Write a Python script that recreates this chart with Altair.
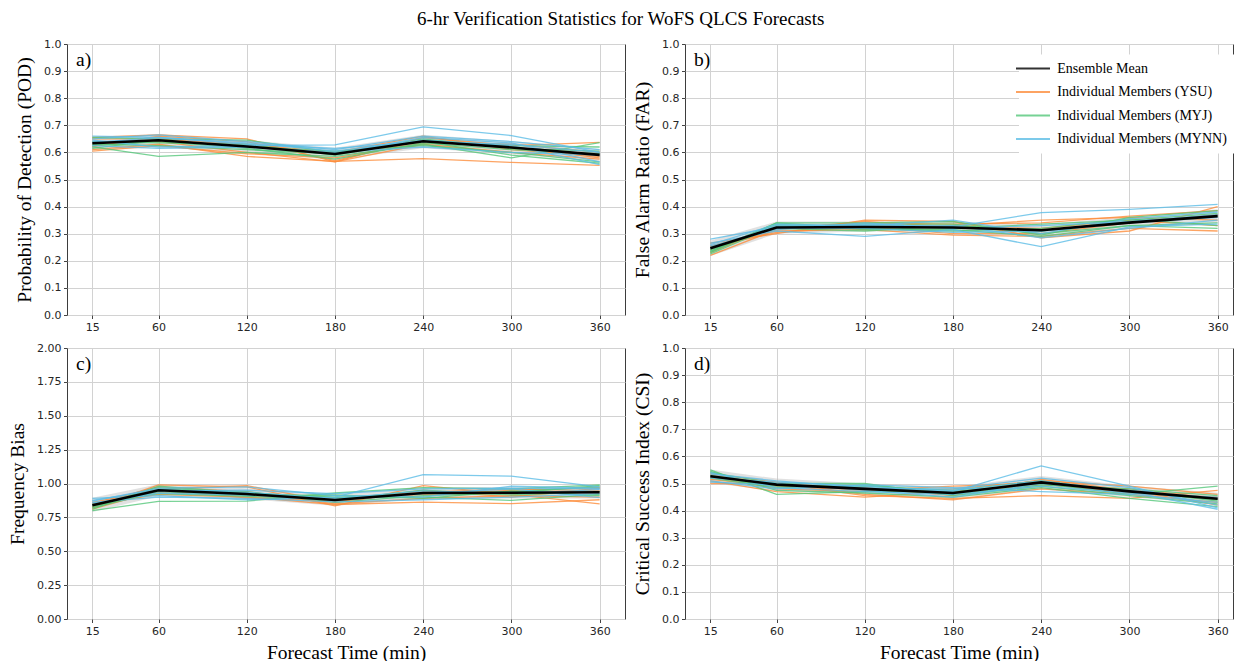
import altair as alt
import pandas as pd

TIMES = [15, 60, 120, 180, 240, 300, 360]
SERIES = ["Ensemble Mean", "Individual Members (YSU)",
          "Individual Members (MYJ)", "Individual Members (MYNN)"]
COLORS = ["#000000", "#fd8d3c", "#55c77a", "#5cbde6"]
Y_TICKS_01 = [0.0, 0.1, 0.2, 0.3, 0.4, 0.5, 0.6, 0.7, 0.8, 0.9, 1.0]
Y_TICKS_BIAS = [0.0, 0.25, 0.5, 0.75, 1.0, 1.25, 1.5, 1.75, 2.0]

# ---- a) POD ----
POD_MEAN = [0.634, 0.645, 0.622, 0.594, 0.641, 0.618, 0.591]
POD_LO = [0.608, 0.618, 0.600, 0.572, 0.615, 0.593, 0.567]
POD_HI = [0.658, 0.668, 0.645, 0.617, 0.665, 0.642, 0.613]
POD_YSU = [
    [0.655, 0.665, 0.650, 0.565, 0.655, 0.625, 0.637],
    [0.610, 0.630, 0.585, 0.567, 0.577, 0.563, 0.552],
    [0.620, 0.660, 0.640, 0.570, 0.645, 0.620, 0.580],
    [0.640, 0.640, 0.600, 0.565, 0.630, 0.600, 0.575],
    [0.605, 0.625, 0.595, 0.580, 0.635, 0.630, 0.600],
    [0.650, 0.650, 0.630, 0.600, 0.660, 0.610, 0.585],
]
POD_MYJ = [
    [0.620, 0.585, 0.600, 0.585, 0.630, 0.580, 0.636],
    [0.655, 0.650, 0.645, 0.600, 0.640, 0.590, 0.560],
    [0.615, 0.645, 0.620, 0.605, 0.625, 0.600, 0.565],
    [0.640, 0.635, 0.630, 0.590, 0.645, 0.625, 0.620],
    [0.625, 0.640, 0.615, 0.575, 0.635, 0.610, 0.595],
    [0.630, 0.625, 0.610, 0.595, 0.650, 0.615, 0.605],
]
POD_MYNN = [
    [0.645, 0.620, 0.625, 0.628, 0.694, 0.662, 0.600],
    [0.650, 0.665, 0.640, 0.610, 0.660, 0.640, 0.610],
    [0.625, 0.615, 0.620, 0.595, 0.655, 0.635, 0.565],
    [0.635, 0.655, 0.635, 0.605, 0.645, 0.625, 0.555],
    [0.640, 0.645, 0.620, 0.600, 0.620, 0.600, 0.590],
    [0.660, 0.655, 0.630, 0.615, 0.640, 0.630, 0.600],
]

# ---- b) FAR ----
FAR_MEAN = [0.246, 0.323, 0.325, 0.323, 0.313, 0.341, 0.365]
FAR_LO = [0.218, 0.300, 0.308, 0.307, 0.290, 0.318, 0.340]
FAR_HI = [0.275, 0.345, 0.345, 0.345, 0.335, 0.362, 0.390]
FAR_YSU = [
    [0.265, 0.300, 0.350, 0.345, 0.285, 0.310, 0.400],
    [0.240, 0.320, 0.340, 0.335, 0.340, 0.365, 0.385],
    [0.255, 0.310, 0.315, 0.295, 0.290, 0.320, 0.310],
    [0.230, 0.330, 0.330, 0.330, 0.350, 0.360, 0.350],
    [0.250, 0.305, 0.325, 0.300, 0.300, 0.340, 0.370],
    [0.220, 0.315, 0.345, 0.325, 0.320, 0.350, 0.330],
]
FAR_MYJ = [
    [0.230, 0.340, 0.340, 0.345, 0.295, 0.360, 0.385],
    [0.235, 0.335, 0.315, 0.315, 0.290, 0.330, 0.320],
    [0.225, 0.330, 0.325, 0.320, 0.335, 0.350, 0.375],
    [0.245, 0.320, 0.310, 0.330, 0.310, 0.345, 0.365],
    [0.240, 0.325, 0.335, 0.335, 0.300, 0.330, 0.340],
    [0.235, 0.340, 0.320, 0.310, 0.320, 0.355, 0.330],
]
FAR_MYNN = [
    [0.280, 0.325, 0.335, 0.325, 0.378, 0.390, 0.408],
    [0.265, 0.310, 0.290, 0.315, 0.252, 0.325, 0.335],
    [0.260, 0.335, 0.330, 0.350, 0.300, 0.355, 0.380],
    [0.250, 0.320, 0.320, 0.305, 0.310, 0.340, 0.360],
    [0.245, 0.330, 0.330, 0.330, 0.285, 0.320, 0.350],
    [0.255, 0.315, 0.340, 0.320, 0.330, 0.345, 0.370],
]

# ---- c) Frequency Bias ----
BIAS_MEAN = [0.840, 0.950, 0.922, 0.878, 0.930, 0.932, 0.935]
BIAS_LO = [0.790, 0.905, 0.885, 0.835, 0.885, 0.890, 0.890]
BIAS_HI = [0.895, 0.995, 0.965, 0.920, 0.975, 0.975, 0.985]
BIAS_YSU = [
    [0.820, 0.990, 0.975, 0.835, 0.985, 0.920, 0.850],
    [0.840, 0.920, 0.900, 0.845, 0.862, 0.851, 0.880],
    [0.860, 0.960, 0.985, 0.860, 0.950, 0.900, 0.965],
    [0.830, 0.935, 0.910, 0.880, 0.920, 0.950, 0.970],
    [0.850, 0.975, 0.940, 0.850, 0.890, 0.910, 0.900],
    [0.810, 0.950, 0.895, 0.870, 0.935, 0.960, 0.945],
]
BIAS_MYJ = [
    [0.800, 0.868, 0.870, 0.930, 0.970, 0.960, 0.990],
    [0.810, 0.980, 0.930, 0.900, 0.900, 0.875, 0.920],
    [0.825, 0.955, 0.940, 0.860, 0.910, 0.930, 0.985],
    [0.845, 0.925, 0.905, 0.880, 0.950, 0.915, 0.940],
    [0.820, 0.940, 0.910, 0.915, 0.890, 0.945, 0.910],
    [0.835, 0.970, 0.925, 0.895, 0.925, 0.940, 0.975],
]
BIAS_MYNN = [
    [0.890, 0.910, 0.880, 0.900, 1.066, 1.054, 0.975],
    [0.870, 0.965, 0.975, 0.910, 0.900, 0.980, 0.965],
    [0.855, 0.930, 0.915, 0.875, 0.925, 0.960, 0.895],
    [0.840, 0.945, 0.950, 0.925, 0.960, 0.965, 0.960],
    [0.860, 0.900, 0.890, 0.865, 0.880, 0.900, 0.925],
    [0.875, 0.955, 0.935, 0.890, 0.945, 0.925, 0.955],
]

# ---- d) CSI ----
CSI_MEAN = [0.527, 0.496, 0.480, 0.465, 0.504, 0.471, 0.444]
CSI_LO = [0.502, 0.472, 0.460, 0.445, 0.478, 0.450, 0.422]
CSI_HI = [0.552, 0.518, 0.500, 0.487, 0.528, 0.492, 0.466]
CSI_YSU = [
    [0.500, 0.500, 0.455, 0.445, 0.455, 0.445, 0.475],
    [0.525, 0.480, 0.470, 0.480, 0.510, 0.490, 0.460],
    [0.535, 0.505, 0.460, 0.440, 0.480, 0.460, 0.430],
    [0.515, 0.490, 0.485, 0.455, 0.515, 0.475, 0.420],
    [0.510, 0.470, 0.450, 0.470, 0.495, 0.480, 0.445],
    [0.530, 0.495, 0.475, 0.490, 0.500, 0.465, 0.450],
]
CSI_MYJ = [
    [0.550, 0.460, 0.470, 0.470, 0.500, 0.460, 0.490],
    [0.540, 0.500, 0.500, 0.455, 0.490, 0.455, 0.425],
    [0.520, 0.485, 0.490, 0.475, 0.510, 0.470, 0.440],
    [0.530, 0.495, 0.480, 0.460, 0.495, 0.480, 0.455],
    [0.545, 0.475, 0.465, 0.450, 0.485, 0.445, 0.415],
    [0.525, 0.490, 0.495, 0.465, 0.505, 0.475, 0.435],
]
CSI_MYNN = [
    [0.520, 0.505, 0.490, 0.470, 0.565, 0.490, 0.410],
    [0.535, 0.510, 0.485, 0.475, 0.510, 0.470, 0.405],
    [0.510, 0.480, 0.495, 0.485, 0.470, 0.460, 0.430],
    [0.525, 0.500, 0.475, 0.450, 0.500, 0.475, 0.445],
    [0.505, 0.495, 0.480, 0.480, 0.520, 0.485, 0.420],
    [0.540, 0.485, 0.470, 0.460, 0.490, 0.465, 0.450],
]

SERIF = "Liberation Serif"
SANS = "DejaVu Sans"


def build_panel(letter, mean, lo, hi, ysu, myj, mynn, ytitle, yticks, yfmt,
                ymax, width, xmax, xtitle, show_legend):
    band_df = pd.DataFrame({"t": TIMES, "lo": lo, "hi": hi})
    rows = []
    for name, group in zip(SERIES[1:], [ysu, myj, mynn]):
        for k, vals in enumerate(group):
            for t, v in zip(TIMES, vals):
                rows.append({"t": t, "v": v, "series": name,
                             "member": f"{name}-{k}"})
    mem_df = pd.DataFrame(rows)
    mean_df = pd.DataFrame({"t": TIMES, "v": mean, "series": SERIES[0]})
    lab_df = pd.DataFrame({"label": [letter]})

    xs = alt.Scale(domain=[-2.25, xmax], nice=False, zero=False)
    ys = alt.Scale(domain=[0, ymax], nice=False, zero=False)
    xa = alt.Axis(values=TIMES, format="d", title=xtitle, grid=True,
                  gridColor="#d2d2d2", gridWidth=1, domain=False,
                  tickColor="#444444", tickSize=3.5, labelPadding=2.5,
                  labelFont=SANS, labelFontSize=11, labelColor="#262626",
                  titleFont=SERIF, titleFontSize=19.5,
                  titleFontWeight="normal", titleColor="#000000",
                  titlePadding=7)
    ya = alt.Axis(values=yticks, format=yfmt, title=ytitle, grid=True,
                  gridColor="#d2d2d2", gridWidth=1, domain=False,
                  tickColor="#444444", tickSize=3.5, labelPadding=2.5,
                  labelFont=SANS, labelFontSize=11, labelColor="#262626",
                  titleFont=SERIF, titleFontSize=19.5,
                  titleFontWeight="normal", titleColor="#000000",
                  titlePadding=9)
    cscale = alt.Scale(domain=SERIES, range=COLORS)
    if show_legend:
        leg = alt.Legend(title=None, orient="none", legendX=334,
                         legendY=10.5, fillColor="white", padding=7,
                         symbolType="M-3,0H3", symbolSize=128.4,
                         symbolStrokeWidth=2.2, labelFont=SERIF,
                         labelFontSize=14, labelColor="#000000",
                         labelOffset=17.3, rowPadding=9.5, labelLimit=400)
    else:
        leg = None

    band = alt.Chart(band_df).mark_area(color="#bdbdbd", opacity=0.45).encode(
        x=alt.X("t:Q", scale=xs, axis=xa),
        y=alt.Y("lo:Q", scale=ys, axis=ya),
        y2="hi:Q",
    )
    members = alt.Chart(mem_df).mark_line(strokeWidth=1.3, opacity=0.8).encode(
        x=alt.X("t:Q", scale=xs, axis=xa),
        y=alt.Y("v:Q", scale=ys, axis=ya),
        color=alt.Color("series:N", scale=cscale, legend=leg),
        detail="member:N",
    )
    mean_line = alt.Chart(mean_df).mark_line(strokeWidth=2.6).encode(
        x=alt.X("t:Q", scale=xs, axis=xa),
        y=alt.Y("v:Q", scale=ys, axis=ya),
        color=alt.Color("series:N", scale=cscale, legend=leg),
    )
    label = alt.Chart(lab_df).mark_text(
        align="left", baseline="alphabetic", font=SERIF, fontSize=19.5,
        color="#000000",
    ).encode(x=alt.value(9), y=alt.value(21.5), text="label:N")
    return alt.layer(band, members, mean_line, label).properties(
        width=width, height=271,
    )


pa = build_panel("a)", POD_MEAN, POD_LO, POD_HI, POD_YSU, POD_MYJ, POD_MYNN,
                 "Probability of Detection (POD)", Y_TICKS_01, ".1f", 1.0,
                 558, 377.25, None, False)
pb = build_panel("b)", FAR_MEAN, FAR_LO, FAR_HI, FAR_YSU, FAR_MYJ, FAR_MYNN,
                 "False Alarm Ratio (FAR)", Y_TICKS_01, ".1f", 1.0,
                 548, 370.45, None, True)
pc = build_panel("c)", BIAS_MEAN, BIAS_LO, BIAS_HI, BIAS_YSU, BIAS_MYJ,
                 BIAS_MYNN, "Frequency Bias", Y_TICKS_BIAS, ".2f", 2.0,
                 558, 377.25, "Forecast Time (min)", False)
pd_ = build_panel("d)", CSI_MEAN, CSI_LO, CSI_HI, CSI_YSU, CSI_MYJ, CSI_MYNN,
                  "Critical Success Index (CSI)", Y_TICKS_01, ".1f", 1.0,
                  548, 370.45, "Forecast Time (min)", False)

chart = alt.concat(
    pa, pb, pc, pd_, columns=2,
    spacing=alt.RowColnumber(row=33, column=60),
    bounds="flush",
    title=alt.TitleParams("6-hr Verification Statistics for WoFS QLCS Forecasts",
                          anchor="middle", font=SERIF, fontSize=19,
                          fontWeight="normal", color="#000000",
                          baseline="alphabetic", offset=-6.5),
).resolve_scale(
    color="independent", x="independent", y="independent"
).configure_view(
    stroke="#3d3d3d", strokeWidth=1
).properties(
    padding={"left": 7, "top": 10, "right": 0, "bottom": 0},
    background="white",
)

chart.save("out.html", embed_options={"renderer": "svg", "actions": False})
